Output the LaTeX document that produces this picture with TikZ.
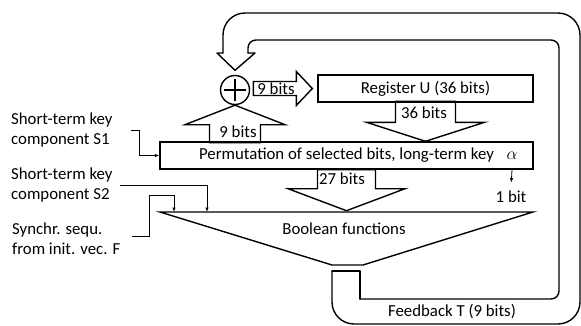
\documentclass[tikz,border=0pt]{standalone}
\usepackage{fontspec}
\setmainfont{Carlito}
\usetikzlibrary{arrows.meta,calc}

\begin{document}
\begin{tikzpicture}[
  x=1pt, y=-1pt,
  font=\fontsize{16.8}{20}\selectfont,
  box/.style={rectangle, draw, line width=1.4pt, inner sep=0pt},
  blk/.style={draw, line width=1.4pt, line join=miter},
  fb/.style={draw, line width=1.4pt, line cap=round, line join=round},
  lead/.style={draw, line width=0.8pt, -{Latex[length=4.5pt,width=3.5pt]}},
  lbl/.style={inner sep=0pt, align=left},
]
  \useasboundingbox (0,0) rectangle (581,325);

  \node[box, minimum width=215pt, minimum height=27pt] (reg) at (425.5,88.5) {Register U (36 bits)};
  \node[box, minimum width=373pt, minimum height=27pt] (perm) at (346.5,155.5) {Permutation of selected bits, long-term key};
  \node (alpha) at (512,156) {$\alpha$};
  \node[draw, circle, line width=1.4pt, minimum size=29pt, inner sep=0pt] (xor) at (235,90) {};
  \draw[line width=1.4pt] ([yshift=-4pt]xor.north) -- ([yshift=4pt]xor.south);
  \draw[line width=1.4pt] ([xshift=4pt]xor.west) -- ([xshift=-4pt]xor.east);

  % Boolean functions
  \coordinate (b1) at (160,212);
  \coordinate (b2) at (533,212);
  \coordinate (b3) at (363,265);
  \coordinate (b4) at (332,265);
  \coordinate (inF) at (174,212);
  \coordinate (inS2) at (207,212);
  \draw[blk] (b1) -- (b2) -- (b3) -- (b4) -- cycle;
  \node (bool) at (344,229) {Boolean functions};

  % block arrows
  \draw[blk] ($(reg.west)+(-5,0)$) -- ++(-16,-17) -- ++(0,10) -- ++(-43,0) -- ++(0,14) -- ++(43,0) -- ++(0,10) -- cycle;
  \node (t9a) at (276,89) {9 bits};
  \draw[blk] (xor.south) -- ++(-50,19.5) -- ++(24.5,0) -- ++(0,18) -- ++(51,0) -- ++(0,-18) -- ++(24.5,0) -- cycle;
  \node (t9b) at (238,132) {9 bits};
  \draw[blk] (perm.north -| reg.south) -- ++(-59,-19) -- ++(29,0) -- ++(0,-21) -- ++(60,0) -- ++(0,21) -- ++(29,0) -- cycle;
  \node (t36) at (424,113) {36 bits};
  \draw[blk] ($(perm.south)+(0,41)$) -- ++(-58.5,-22) -- ++(29.5,0) -- ++(0,-19) -- ++(58,0) -- ++(0,19) -- ++(29.5,0) -- cycle;
  \node (t27) at (342,179) {27 bits};

  % feedback
  \draw[fb, rounded corners=22pt] (332,271) -- (332,324) -- (580,324) -- (580,13) -- (223,13) -- (223,53);
  \draw[fb] (223,53) -- (217,53) -- ($(xor.north)+(0,-4.5)$) -- (255,53) -- (248,53);
  \draw[fb, rounded corners=8pt] (248,53) -- (248,40) -- (559,40) -- (559,299) -- (360,299);
  \draw[fb] (360,299) -- (360,271) -- (332,271);
  \node (fbtext) at (452,312) {Feedback T (9 bits)};

  % inputs
  \node[lbl, anchor=west] (s1) at (11,130) {Short-term key\\component S1};
  \node[lbl, anchor=west] (s2) at (11,185) {Short-term key\\component S2};
  \node[lbl, anchor=west] (fv) at (12,239) {Synchr. sequ.\\from init. vec. F};
  \node (onebit) at (511,197) {1 bit};

  \draw[lead, shorten <=18pt] (s1.east) -- ++(27,0) |- (perm.west);
  \draw[lead, shorten <=7pt] (s2.east) -| (inS2);
  \draw[lead, shorten <=11pt] ([yshift=3pt]fv.east) -| ($(inF)+(-25,-17)$) -- ($(inF)+(0,-17)$) -- (inF);
  \draw[lead, shorten >=5pt] (perm.south -| alpha) -- (onebit.north);
\end{tikzpicture}
\end{document}
